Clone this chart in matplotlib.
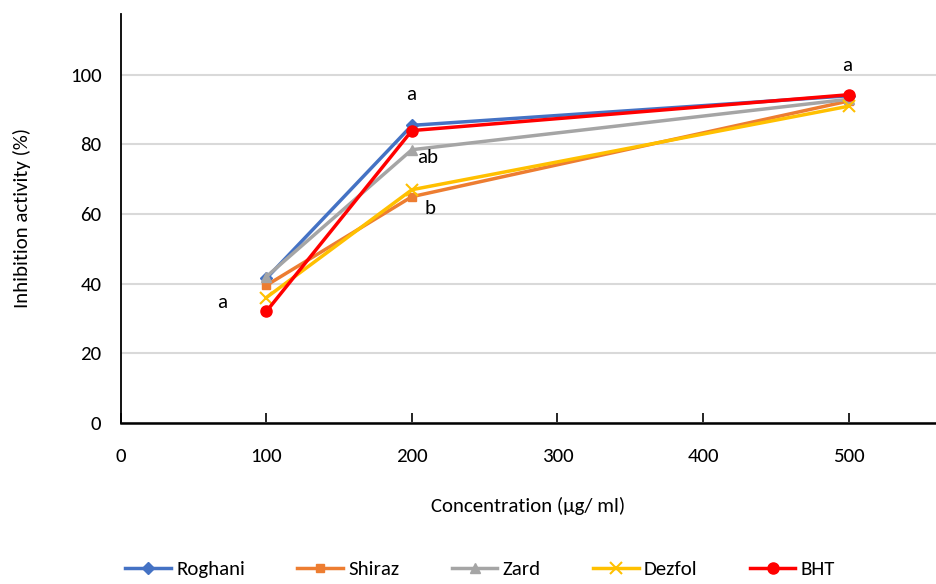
import matplotlib
matplotlib.use("Agg")
import matplotlib.pyplot as plt
from matplotlib import font_manager

names = {f.name for f in font_manager.fontManager.ttflist}
fam = "Carlito" if "Carlito" in names else "Lato"
plt.rcParams['font.family'] = [fam, 'DejaVu Sans']

concentration = [100, 200, 500]
roghani = [41.5, 85.5, 94.0]
shiraz = [39.5, 65.0, 92.5]
zard = [42.0, 78.5, 93.0]
dezfol = [36.0, 67.0, 91.0]
bht = [32.0, 84.0, 94.3]

series = [
    ("Roghani", roghani, "#4472C4", "D", 6),
    ("Shiraz", shiraz, "#ED7D31", "s", 6),
    ("Zard", zard, "#A5A5A5", "^", 7),
    ("Dezfol", dezfol, "#FFC000", "x", 8),
    ("BHT", bht, "#FF0000", "o", 8),
]

letters = ["a", "a", "ab", "b", "a"]
letter_pos = [(69.5, 34.5), (199.5, 94.5), (211, 76.4), (212.5, 61.5), (499, 102.8)]

fig = plt.figure(figsize=(9.36, 5.84), dpi=100)
ax = fig.add_axes([0.129, 0.276, 0.871, 0.700])

for name, vals, col, mk, ms in series:
    ax.plot(concentration, vals, color=col, lw=2.5, marker=mk, ms=ms,
            mew=1.5 if mk == "x" else 1, label=name, zorder=3)

for t, (x, y) in zip(letters, letter_pos):
    ax.text(x, y, t, fontsize=15, color="black", ha="center", va="center")

ax.set_xlim(0, 560)
ax.set_ylim(0, 117.5)
ax.set_yticks([0, 20, 40, 60, 80, 100])
ax.set_xticks([0, 100, 200, 300, 400, 500])
ax.yaxis.grid(True, color="#D9D9D9", lw=1.5)
ax.set_axisbelow(True)
for s in ["top", "right"]:
    ax.spines[s].set_visible(False)
ax.spines["left"].set_linewidth(1.3)
ax.spines["bottom"].set_linewidth(1.8)
ax.tick_params(axis="x", direction="in", length=7, width=1.2, labelsize=15, pad=18)
ax.tick_params(axis="y", length=0, labelsize=15, pad=14)
ax.set_xlabel("Concentration (µg/ ml)", fontsize=15, labelpad=23)
ax.set_ylabel("Inhibition activity (%)", fontsize=15, labelpad=28)

fig.legend(loc="lower center", ncol=5, bbox_to_anchor=(0.513, -0.022), frameon=False,
           fontsize=15, handlelength=2.2, columnspacing=2.5, handletextpad=0.25)

fig.savefig("out.png", dpi=100)
